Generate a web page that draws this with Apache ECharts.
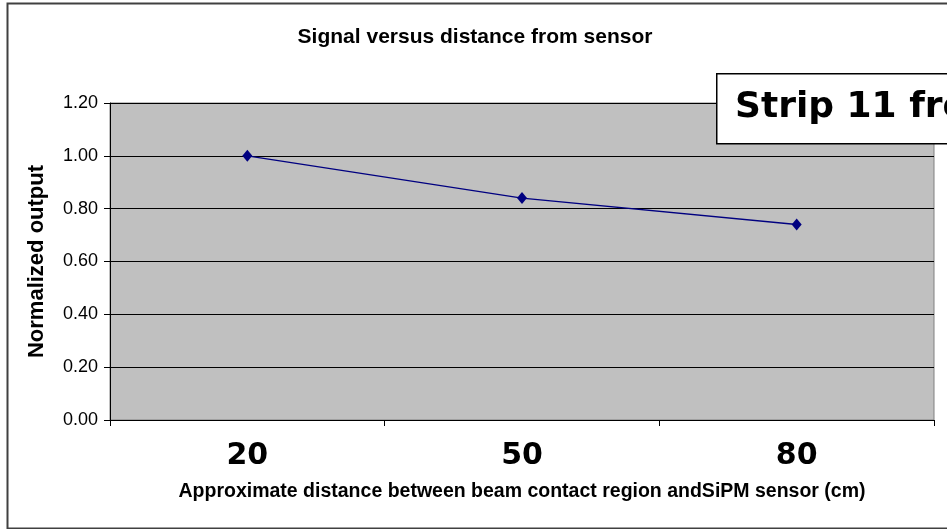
<!DOCTYPE html>
<html><head><meta charset="utf-8">
<script src="https://cdn.jsdelivr.net/npm/echarts@6/dist/echarts.min.js"></script>
<style>html,body{margin:0;padding:0;background:#fff}#c{width:947px;height:529px}</style>
</head><body><div id="c"></div>
<script>
const categories = ['20', '50', '80'];
const values = [1.00, 0.84, 0.74];
const yTicks = [0, 0.2, 0.4, 0.6, 0.8, 1.0, 1.2];

const chart = echarts.init(document.getElementById('c'), null, {renderer: 'canvas'});
chart.setOption({
  animation: false,
  backgroundColor: '#fff',
  title: {
    text: 'Signal versus distance from sensor',
    left: 470, top: 22, textAlign: 'center',
    textStyle: {fontFamily: 'Liberation Sans', fontWeight: 'bold', fontSize: 21, color: '#000'}
  },
  grid: {left: 110, right: 13, top: 103, bottom: 109, show: true, backgroundColor: '#C0C0C0', borderColor: '#808080', borderWidth: 1},
  xAxis: {
    type: 'category', data: categories, boundaryGap: true,
    name: 'Approximate distance between beam contact region andSiPM sensor (cm)',
    nameLocation: 'middle', nameGap: 62,
    nameTextStyle: {fontFamily: 'Liberation Sans', fontWeight: 'bold', fontSize: 19.5, color: '#000'},
    axisLine: {lineStyle: {color: '#000', width: 1}},
    axisTick: {show: true, interval: 0, length: 6, lineStyle: {color: '#000'}},
    axisLabel: {fontFamily: 'DejaVu Sans', fontWeight: 'bold', fontSize: 30, color: '#000', margin: 21},
    splitLine: {show: false}
  },
  yAxis: {
    type: 'value', min: 0, max: 1.2, interval: 0.2,
    name: 'Normalized output', nameLocation: 'middle', nameGap: 62, nameRotate: 90,
    nameTextStyle: {fontFamily: 'Liberation Sans', fontWeight: 'bold', fontSize: 22, color: '#000'},
    axisLine: {show: true, lineStyle: {color: '#000'}},
    axisTick: {show: true, length: 6, lineStyle: {color: '#000'}},
    axisLabel: {fontFamily: 'Liberation Sans', fontSize: 18, color: '#000', margin: 12,
      formatter: v => yTicks.includes(Math.round(v*10)/10) ? v.toFixed(2) : ''},
    splitLine: {show: true, lineStyle: {color: '#000', width: 1}}
  },
  series: [{
    type: 'line', data: values,
    symbol: 'diamond', symbolSize: [10, 12],
    lineStyle: {color: '#000080', width: 1.4},
    itemStyle: {color: '#000080'}
  }],
  graphic: [
    {type: 'rect', left: 5, top: 1, shape: {width: 960, height: 525},
     style: {fill: 'none', stroke: '#404040', lineWidth: 2}, z: 100},
    {type: 'rect', left: 716, top: 73, shape: {width: 260, height: 70},
     style: {fill: '#fff', stroke: '#000', lineWidth: 1.5}, z: 50},
    {type: 'text', left: 735, top: 90,
     style: {text: 'Strip 11 from', font: 'bold 36px "DejaVu Sans"', fill: '#000'}, z: 51}
  ]
});
</script></body></html>
